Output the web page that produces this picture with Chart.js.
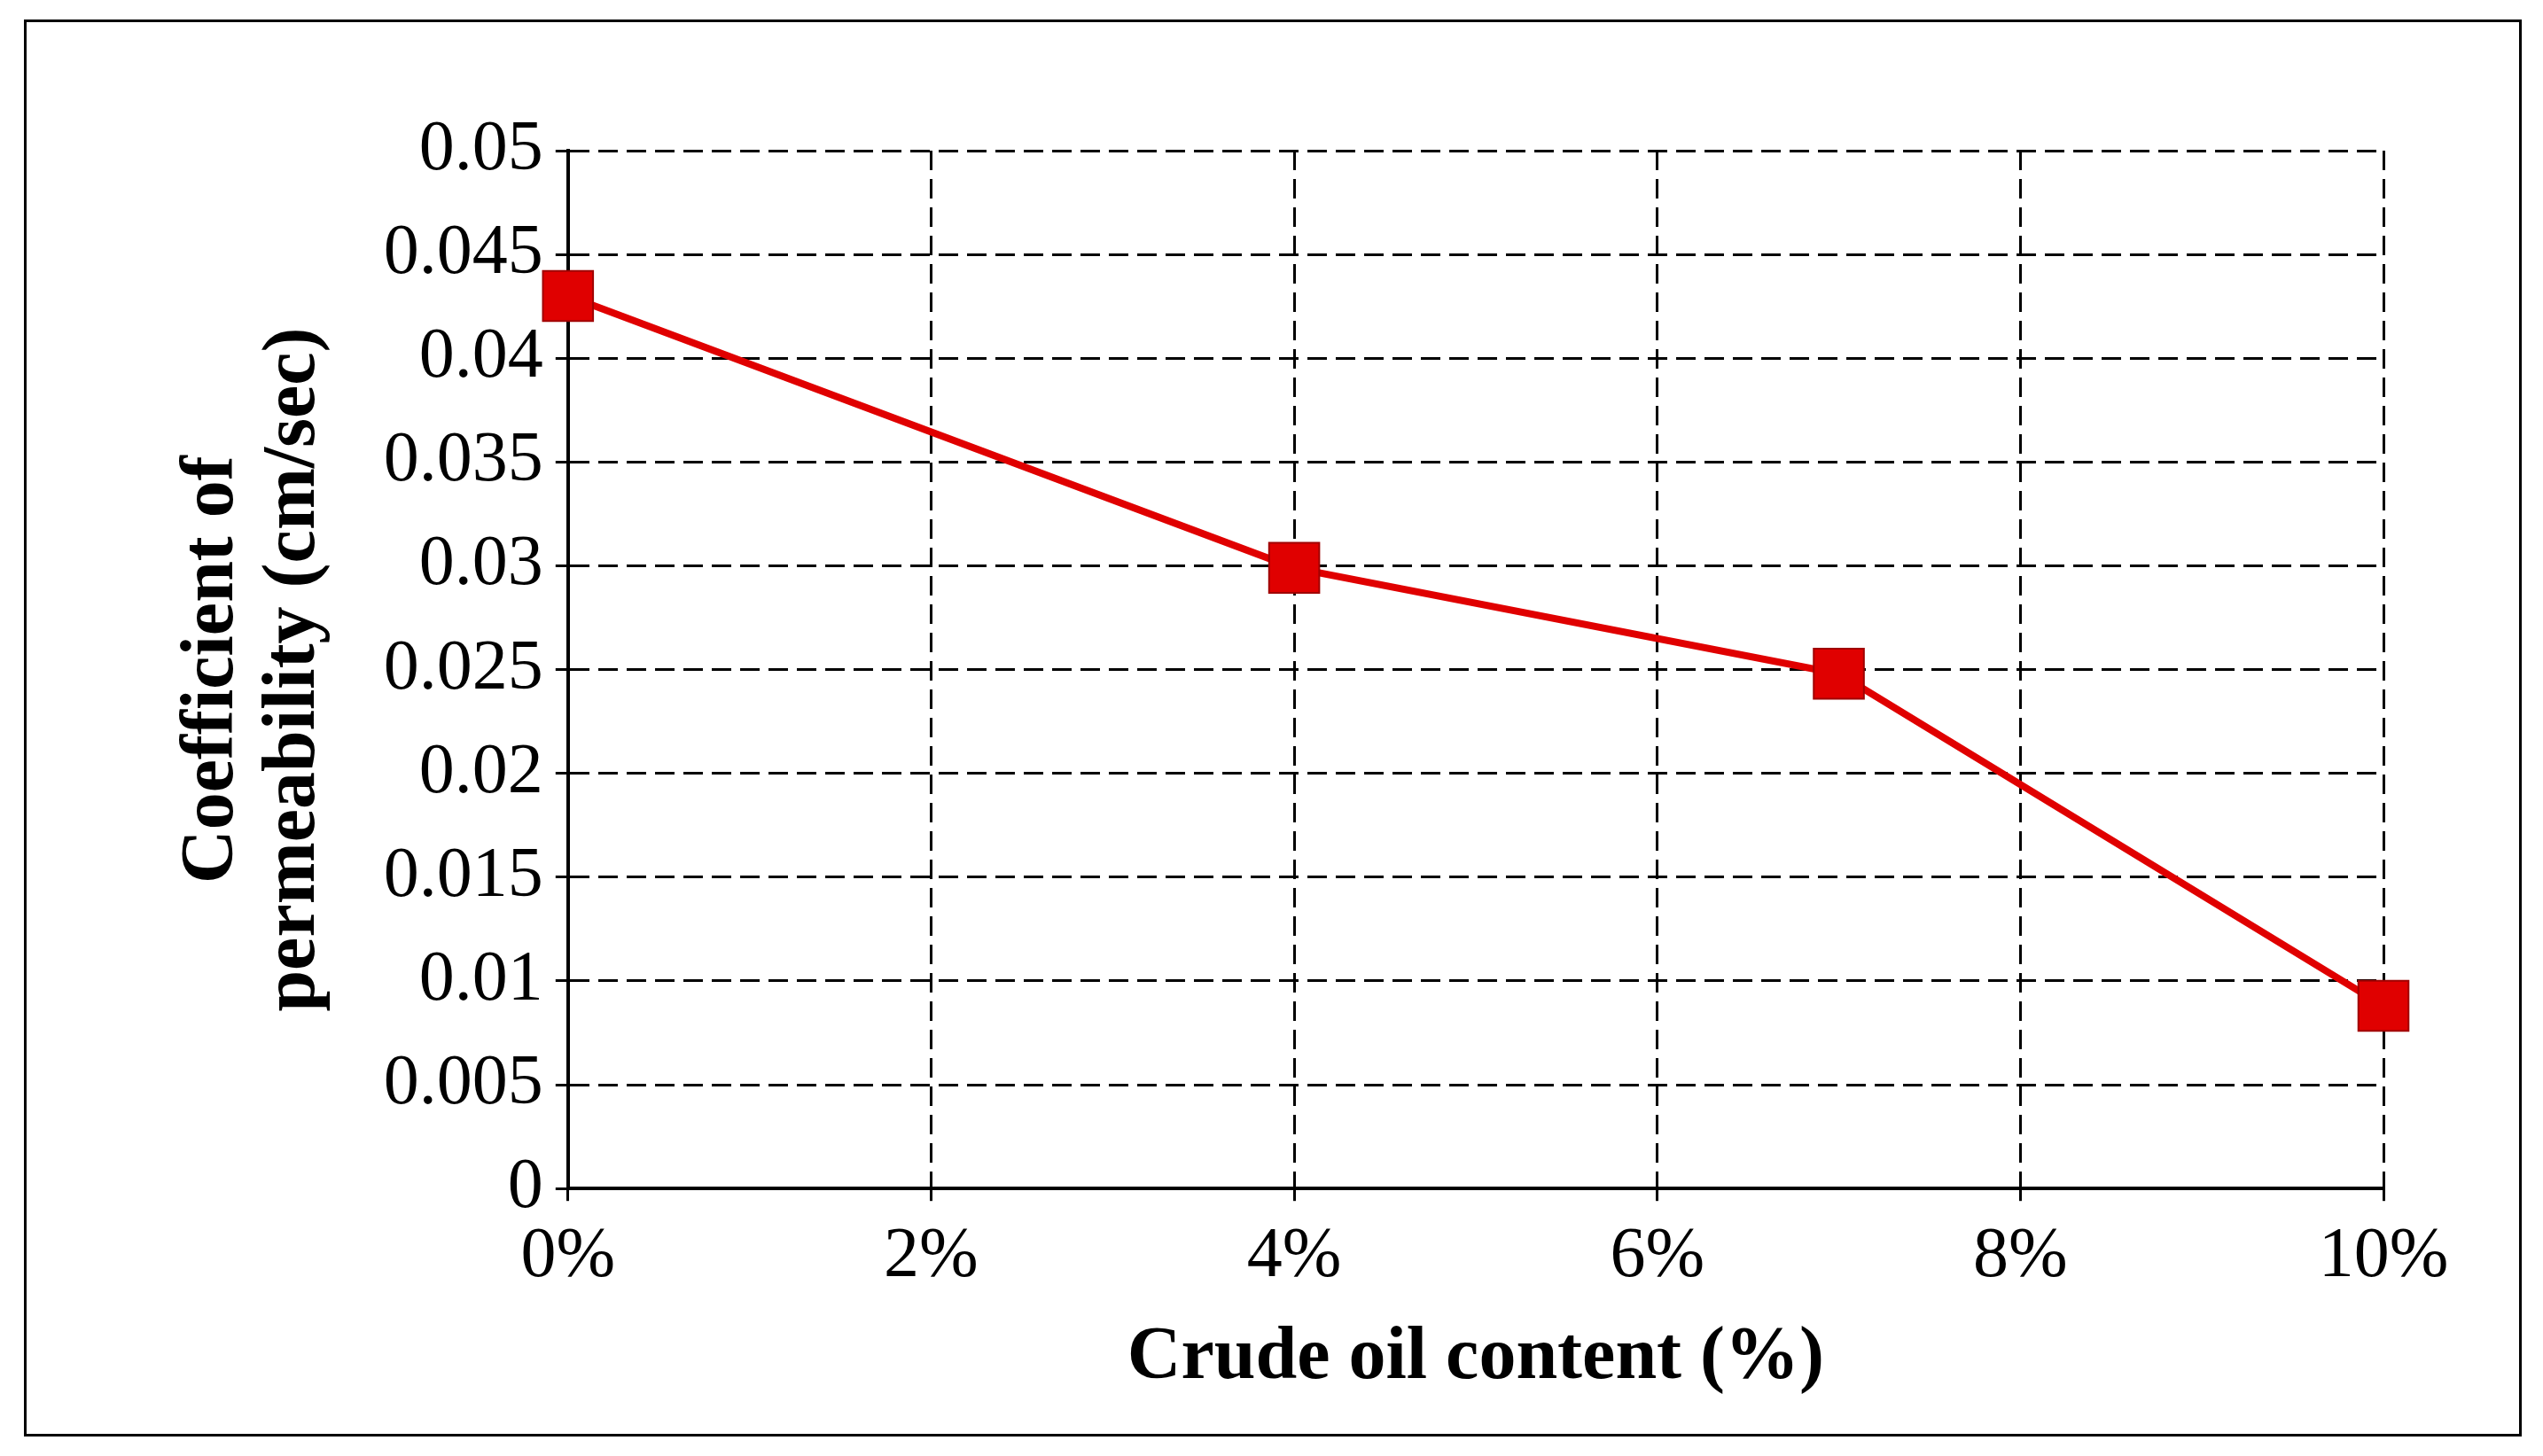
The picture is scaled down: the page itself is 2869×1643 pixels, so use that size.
<!DOCTYPE html>
<html>
<head>
<meta charset="utf-8">
<script src="https://cdn.jsdelivr.net/npm/chart.js@4"></script>
<style>
  body { margin: 0; background: #fff; }
  #wrap { position: absolute; left: 0; top: 0; width: 2869px; height: 1643px; }
  #frame { position: absolute; left: 27px; top: 22px; width: 2812px; height: 1593px; border: 3px solid #000; }
</style>
</head>
<body>
<div id="wrap">
  <div id="frame"></div>
  <canvas id="myChart" width="2869" height="1643"></canvas>
</div>
<script>
// crude oil content (%) vs coefficient of permeability
const oilContent = [0, 4, 7, 10];
const permeability = [0.043, 0.0299, 0.0248, 0.0088];
const xTitle = "Crude oil content (%)";
const yTitle = ["Coefficient of", "permeability (cm/sec)"];

const ctx = document.getElementById("myChart").getContext("2d");
new Chart(ctx, {
  type: "line",
  data: {
    datasets: [
      {
        data: oilContent.map((x, i) => ({ x: x, y: permeability[i] })),
        borderColor: "#e00000",
        borderWidth: 8,
        pointStyle: "rect",
        pointRadius: 40,
        pointBackgroundColor: "#e00000",
        pointBorderColor: "#a00000",
        pointBorderWidth: 2,
        tension: 0,
        clip: false,
      },
    ],
  },
  options: {
    responsive: false,
    animation: false,
    devicePixelRatio: 1,
    plugins: { legend: { display: false }, tooltip: { enabled: false } },
    layout: { padding: { top: 170, right: 180, bottom: 55, left: 190 } },
    scales: {
      x: {
        type: "linear",
        min: 0,
        max: 10,
        ticks: {
          stepSize: 2,
          color: "#000",
          font: { family: "Liberation Serif", size: 80 },
          padding: 16,
          callback: (v) => v + "%",
        },
        grid: {
          color: "#000",
          lineWidth: 3,
          tickLength: 14,
        },
        border: { color: "#000", width: 4, dash: [22, 10] },
        title: {
          display: true,
          text: xTitle,
          color: "#000",
          font: { family: "Liberation Serif", size: 84, weight: "bold" },
          padding: { top: 0 },
        },
      },
      y: {
        min: 0,
        max: 0.05,
        ticks: {
          stepSize: 0.005,
          color: "#000",
          font: { family: "Liberation Serif", size: 80 },
          padding: 14,
          callback: (v) => Number(v.toFixed(3)).toString(),
        },
        grid: {
          color: "#000",
          lineWidth: 3,
          tickLength: 14,
        },
        border: { color: "#000", width: 4, dash: [22, 10] },
        title: {
          display: true,
          text: yTitle,
          color: "#000",
          font: { family: "Liberation Serif", size: 84, weight: "bold", lineHeight: 1.1 },
          padding: { bottom: 40 },
        },
      },
    },
  },
});
</script>
</body>
</html>
